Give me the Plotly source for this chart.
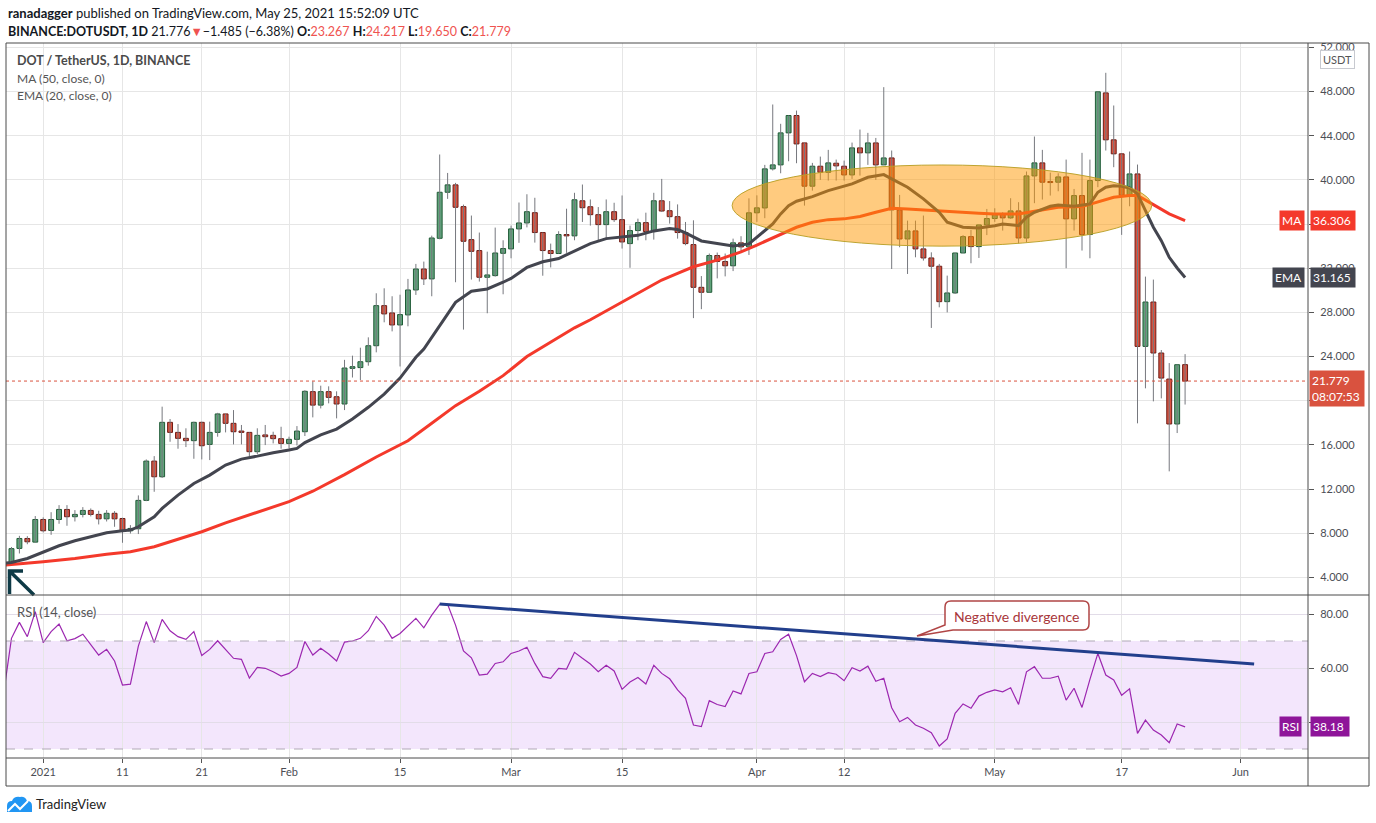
import pandas as pd
import plotly.graph_objects as go

# daily candles, 28 Dec 2020 .. 25 May 2021
candle_dates = pd.date_range('2020-12-28', '2021-05-25', freq='D')
opens = [5.25, 6.62, 7.52, 7.19,
         9.24, 8.25, 9.24, 10.15, 9.49, 9.70, 10.06, 9.70, 9.30, 9.80,
         9.33, 8.22, 8.40, 10.97, 14.53, 13.11, 18.04, 17.13, 16.59, 16.38,
         18.04, 16.04, 17.13, 18.80, 17.95, 17.25, 17.13, 15.38, 16.90, 16.86, 16.56,
         16.13, 16.50, 17.19, 20.82, 19.60, 20.82, 20.36, 19.70, 22.93, 23.00,
         23.53, 24.98, 28.61, 27.95, 26.86, 27.77, 30.03, 31.93, 31.03, 34.71,
         38.88, 39.55, 37.58, 34.59, 33.60, 31.18, 31.33, 33.35,
         33.75, 35.56, 36.10, 37.03, 35.23, 33.60, 33.33, 35.05, 34.93, 38.11,
         37.57, 36.85, 35.95, 37.12, 36.40, 34.23, 35.41, 36.13, 35.32, 38.11,
         37.21, 36.67, 35.23, 34.14, 30.27, 29.82, 33.15, 32.61, 32.22, 34.30, 33.93,
         37.02, 37.46, 41.00, 41.36, 44.26, 45.83, 43.35, 39.43, 41.24, 40.69,
         41.51, 41.24, 40.45, 42.90, 42.45, 43.35, 41.36, 41.99, 37.28, 34.65,
         35.38, 33.75, 32.93, 32.18, 28.97, 29.76, 33.38, 34.86, 33.96, 35.92,
         36.50, 36.86, 36.56, 37.19, 34.74, 40.36, 41.54, 39.85, 39.79, 40.27,
         36.47, 38.58, 35.05, 39.94, 47.88, 43.63, 42.36, 38.61, 40.54, 24.92,
         28.94, 24.32, 21.96, 17.89, 23.267]
highs = [6.75, 7.76, 7.73, 9.55,
         9.43, 9.90, 10.54, 10.54, 10.09, 10.36, 10.24, 10.03, 10.09, 10.00,
         9.40, 8.73, 11.42, 14.68, 14.98, 19.46, 18.34, 17.88, 17.50, 18.10,
         18.10, 18.10, 18.90, 18.80, 19.15, 17.80, 17.13, 17.50, 17.80, 17.19, 17.64,
         16.74, 17.70, 20.95, 21.75, 21.36, 21.30, 20.85, 23.70, 24.08, 24.80,
         25.74, 29.73, 30.18, 29.46, 29.60, 31.03, 32.39, 32.60, 34.95, 42.30,
         40.63, 39.73, 37.76, 36.77, 35.23, 33.50, 35.68, 34.53,
         35.86, 37.95, 38.70, 38.38, 35.23, 34.23, 35.35, 37.39, 38.83, 39.58,
         38.23, 37.54, 38.23, 37.93, 38.59, 35.86, 36.49, 37.03, 38.83, 40.09,
         38.08, 37.78, 36.19, 36.34, 31.29, 33.33, 33.42, 33.33, 34.68, 34.90, 38.33,
         38.60, 41.36, 46.83, 45.08, 45.83, 46.28, 43.35, 41.54, 42.11, 42.72,
         41.84, 41.75, 43.38, 44.56, 44.26, 43.80, 48.40, 42.66, 38.64, 36.31,
         36.31, 36.77, 33.44, 32.39, 31.33, 33.38, 35.00, 35.47, 35.92, 37.37,
         37.43, 37.07, 38.34, 37.98, 40.76, 43.93, 42.72, 40.66, 40.60, 41.84,
         39.18, 42.45, 41.84, 47.98, 49.70, 46.74, 42.36, 42.57, 41.39, 31.24,
         30.97, 24.59, 23.41, 23.26, 24.217]
lows = [5.10, 6.16, 7.00, 7.16,
        8.07, 7.85, 8.85, 8.67, 9.06, 9.43, 9.52, 8.79, 9.06, 8.58,
        7.13, 7.97, 7.92, 10.90, 11.75, 13.00, 16.28, 15.65, 15.80, 14.74,
        14.68, 14.62, 16.74, 17.13, 16.04, 16.04, 14.98, 15.17, 15.98, 16.13, 15.65,
        15.65, 15.95, 16.80, 18.49, 19.30, 19.76, 18.40, 19.15, 22.10, 21.87,
        23.17, 24.38, 27.10, 26.28, 23.10, 26.74, 29.58, 30.48, 29.46, 34.62,
        38.28, 30.73, 26.44, 30.97, 30.79, 27.92, 31.24, 29.64,
        32.90, 34.30, 35.70, 34.32, 31.32, 32.07, 33.33, 33.39, 34.53, 36.19,
        35.86, 34.53, 34.68, 36.19, 33.78, 32.04, 34.53, 34.53, 34.59, 37.09,
        36.04, 34.68, 34.08, 27.48, 28.29, 29.82, 31.08, 31.26, 31.74, 33.39, 33.20,
        36.20, 36.53, 40.85, 40.60, 41.69, 41.51, 37.67, 39.03, 40.00, 39.94,
        39.94, 39.94, 40.09, 40.39, 41.36, 40.00, 41.36, 31.93, 33.90, 31.48,
        32.99, 32.69, 26.59, 28.46, 28.00, 29.67, 33.38, 32.45, 32.93, 35.00,
        36.20, 35.41, 36.47, 34.26, 34.35, 37.89, 38.22, 38.58, 38.97, 32.00,
        35.41, 33.60, 32.90, 39.34, 42.66, 41.15, 35.02, 37.61, 17.95, 21.12,
        19.94, 20.21, 13.60, 17.07, 19.650]
closes = [6.60, 7.52, 7.22, 9.24,
          8.22, 9.24, 10.15, 9.49, 9.70, 10.06, 9.70, 9.30, 9.80, 9.30,
          8.22, 8.43, 10.97, 14.53, 13.11, 18.04, 17.13, 16.59, 16.38, 18.04,
          15.92, 17.13, 18.80, 17.95, 17.19, 17.13, 15.38, 16.86, 16.74, 16.56, 16.13,
          16.50, 17.25, 20.85, 19.60, 20.82, 20.30, 19.70, 22.96, 23.08, 23.53,
          24.98, 28.61, 27.86, 26.86, 27.80, 30.03, 31.93, 31.03, 34.74, 38.88,
          39.55, 37.52, 34.44, 33.53, 31.18, 31.39, 33.38, 33.78,
          35.56, 36.10, 37.12, 35.23, 33.60, 33.33, 35.05, 34.93, 38.20, 37.48,
          36.85, 35.95, 37.12, 36.40, 34.38, 35.41, 36.13, 35.32, 38.11, 37.18,
          36.67, 35.23, 34.23, 30.27, 29.82, 33.15, 32.61, 32.22, 34.30, 33.93, 37.02,
          37.47, 41.00, 41.36, 44.26, 45.83, 43.26, 39.43, 41.24, 40.69, 41.54,
          41.27, 40.45, 42.90, 42.45, 43.35, 41.36, 41.99, 37.28, 34.65, 35.38,
          33.75, 32.93, 32.18, 28.97, 29.76, 33.38, 34.86, 33.96, 35.92, 36.50,
          36.85, 36.56, 37.19, 34.74, 40.36, 41.54, 39.79, 39.76, 40.27, 36.47,
          38.58, 35.05, 39.94, 47.98, 43.63, 42.36, 38.61, 40.54, 24.92, 28.94,
          24.32, 22.05, 17.89, 23.26, 21.779]

ema_dates = ['2020-12-27', '2020-12-28', '2020-12-30', '2021-01-01', '2021-01-03', '2021-01-05',
             '2021-01-07', '2021-01-09', '2021-01-11', '2021-01-12', '2021-01-13', '2021-01-15',
             '2021-01-16', '2021-01-18', '2021-01-20', '2021-01-22', '2021-01-24', '2021-01-26',
             '2021-01-28', '2021-01-30', '2021-02-01', '2021-02-02', '2021-02-03', '2021-02-04',
             '2021-02-05', '2021-02-07', '2021-02-09', '2021-02-11', '2021-02-13', '2021-02-15',
             '2021-02-17', '2021-02-18', '2021-02-20', '2021-02-22', '2021-02-24', '2021-02-26',
             '2021-02-28', '2021-03-01', '2021-03-03', '2021-03-05', '2021-03-07', '2021-03-09',
             '2021-03-11', '2021-03-13', '2021-03-15', '2021-03-17', '2021-03-19', '2021-03-21',
             '2021-03-22', '2021-03-23', '2021-03-25', '2021-03-27', '2021-03-29', '2021-03-31',
             '2021-04-01', '2021-04-03', '2021-04-04', '2021-04-05', '2021-04-06', '2021-04-08',
             '2021-04-10', '2021-04-12', '2021-04-13', '2021-04-15', '2021-04-17', '2021-04-18',
             '2021-04-20', '2021-04-22', '2021-04-24', '2021-04-25', '2021-04-27', '2021-04-29',
             '2021-05-01', '2021-05-02', '2021-05-04', '2021-05-05', '2021-05-06', '2021-05-08',
             '2021-05-09', '2021-05-11', '2021-05-13', '2021-05-14', '2021-05-15', '2021-05-16',
             '2021-05-17', '2021-05-18', '2021-05-19', '2021-05-20', '2021-05-21', '2021-05-22',
             '2021-05-23', '2021-05-24', '2021-05-25']
ema_vals = [5.28, 5.35, 5.71, 6.31, 6.86, 7.31, 7.67, 8.04, 8.22, 8.28, 8.58, 9.49,
            10.24, 11.45, 12.5, 13.26, 14.17, 14.71, 14.98, 15.29, 15.53, 15.68, 16.2, 16.52,
            16.9, 17.43, 18.34, 19.4, 20.6, 22.05, 23.93, 24.68, 26.8, 28.91, 29.91, 30.12,
            30.73, 31.08, 32.07, 32.58, 32.88, 33.57, 34.23, 34.68, 34.83, 34.98, 35.38, 35.59,
            35.5, 35.2, 34.47, 34.23, 34.02, 34.2, 34.8, 36.01, 36.92, 37.67, 38.07, 38.49,
            39.03, 39.4, 39.64, 40.24, 40.48, 40.09, 39.34, 38.28, 37.07, 36.16, 35.71, 35.65,
            35.84, 36.01, 35.86, 36.62, 37.07, 37.61, 37.73, 37.61, 37.82, 38.88, 39.34, 39.46,
            39.43, 39.27, 38.73, 37.22, 35.71, 34.5, 32.99, 32.02, 31.165]

ma_dates = ['2020-12-27', '2020-12-28', '2021-01-01', '2021-01-05', '2021-01-09', '2021-01-12',
            '2021-01-15', '2021-01-18', '2021-01-21', '2021-01-24', '2021-01-27', '2021-01-30',
            '2021-02-01', '2021-02-04', '2021-02-08', '2021-02-12', '2021-02-16', '2021-02-19',
            '2021-02-22', '2021-02-25', '2021-02-28', '2021-03-03', '2021-03-06', '2021-03-09',
            '2021-03-11', '2021-03-14', '2021-03-17', '2021-03-20', '2021-03-22', '2021-03-24',
            '2021-03-27', '2021-03-30', '2021-04-01', '2021-04-04', '2021-04-06', '2021-04-08',
            '2021-04-10', '2021-04-12', '2021-04-14', '2021-04-16', '2021-04-18', '2021-04-20',
            '2021-04-23', '2021-04-26', '2021-04-29', '2021-05-01', '2021-05-04', '2021-05-06',
            '2021-05-09', '2021-05-12', '2021-05-14', '2021-05-16', '2021-05-18', '2021-05-19',
            '2021-05-21', '2021-05-23', '2021-05-25']
ma_vals = [5.09, 5.17, 5.41, 5.71, 6.1, 6.31, 6.77, 7.43, 8.13, 8.94, 9.64, 10.33,
           10.85, 11.8, 13.3, 14.9, 16.37, 17.95, 19.55, 20.85, 22.27, 24.0, 25.3, 26.6,
           27.33, 28.53, 29.73, 30.93, 31.53, 32.13, 32.73, 33.48, 34.1, 35.05, 35.71, 36.16,
           36.4, 36.47, 36.68, 37.07, 37.43, 37.37, 37.22, 37.07, 36.98, 36.9, 36.92, 37.16,
           37.52, 37.58, 37.98, 38.43, 38.58, 38.58, 37.76, 36.92, 36.306]

rsi_dates = pd.date_range('2020-12-27', '2021-05-25', freq='D')
rsi_vals = [50.4, 71.0, 76.9, 71.6, 80.9,
            69.4, 73.5, 76.3, 70.1, 70.9, 72.5, 68.5, 64.8, 66.9, 62.6,
            53.7, 54.0, 68.1, 77.2, 69.4, 78.0, 73.8, 71.6, 70.6, 73.5,
            64.6, 66.9, 70.1, 66.9, 63.6, 63.2, 56.3, 60.2, 59.9, 58.6, 57.0,
            58.0, 60.2, 69.8, 64.8, 67.3, 65.2, 62.6, 69.6, 70.0, 71.0,
            73.8, 79.1, 75.9, 71.0, 72.8, 75.6, 78.4, 74.9, 79.6, 83.6,
            83.6, 75.9, 66.3, 63.8, 57.4, 57.7, 61.7, 62.3,
            65.4, 66.3, 67.7, 61.7, 56.8, 56.2, 59.9, 59.6, 65.8, 63.6,
            61.5, 58.6, 61.0, 58.9, 52.1, 54.8, 56.5, 54.1, 61.0, 58.0,
            56.0, 51.9, 48.8, 38.9, 38.3, 47.9, 46.5, 45.7, 51.5, 50.4, 58.0,
            58.6, 65.4, 66.0, 70.6, 72.5, 64.6, 54.9, 58.0, 56.8, 58.3,
            57.7, 55.3, 60.1, 58.9, 60.7, 55.1, 56.2, 45.3, 40.1, 41.7,
            38.9, 37.7, 36.0, 31.1, 33.7, 43.2, 46.7, 45.1, 49.6, 51.0,
            51.9, 51.2, 52.7, 46.5, 58.6, 60.5, 56.2, 56.2, 57.0, 48.1,
            52.5, 45.4, 55.8, 65.4, 57.4, 55.6, 49.9, 52.3, 35.8, 40.7,
            37.0, 35.2, 32.3, 39.3, 38.18]

tick_dates = ['2021-01-01', '2021-01-11', '2021-01-21', '2021-02-01', '2021-02-15', '2021-03-01',
              '2021-03-15', '2021-04-01', '2021-04-12', '2021-05-01', '2021-05-17', '2021-06-01']
tick_text = ['2021', '11', '21', 'Feb', '15', 'Mar', '15', 'Apr', '12', 'May', '17', 'Jun']

# page geometry in pixels
W, H = 1376, 823
L, R, T, B = 6, 68, 43, 65
FONT = 'Lato'
UP, UP_EDGE = '#5fa37a', '#1f5a36'
DOWN, DOWN_EDGE = '#d9523f', '#6e1c16'


def px(x):
    return (x - L) / (W - L - R)


def py(y):
    return (H - B - y) / (H - T - B)


def P(x, y):
    return f'{px(x):.5f},{py(y):.5f}'


split = py(595)
x_range = ['2020-12-27 07:26', '2021-06-09 12:00']

fig = go.Figure()

# wicks
wx, wy = [], []
for d, lo, hi in zip(candle_dates, lows, highs):
    wx += [d, d, None]
    wy += [lo, hi, None]
fig.add_trace(go.Scatter(x=wx, y=wy, mode='lines', line=dict(color='#76787e', width=1),
                         hoverinfo='skip', xaxis='x', yaxis='y'))

# bodies
up = [c >= o for o, c in zip(opens, closes)]
fig.add_trace(go.Bar(
    x=candle_dates,
    y=[max(abs(c - o), 0.04) for o, c in zip(opens, closes)],
    base=[min(o, c) for o, c in zip(opens, closes)],
    width=0.62 * 86400000,
    marker=dict(color=[UP if u else DOWN for u in up],
                line=dict(color=[UP_EDGE if u else DOWN_EDGE for u in up], width=1)),
    xaxis='x', yaxis='y'))

fig.add_trace(go.Scatter(x=ma_dates, y=ma_vals, mode='lines',
                         line=dict(color='#f4392b', width=3), xaxis='x', yaxis='y'))
fig.add_trace(go.Scatter(x=ema_dates, y=ema_vals, mode='lines',
                         line=dict(color='#43454f', width=3), xaxis='x', yaxis='y'))

fig.add_trace(go.Scatter(x=rsi_dates, y=rsi_vals, mode='lines',
                         line=dict(color='#9c27b0', width=1.2), xaxis='x2', yaxis='y2'))

axis_font = dict(family=FONT, size=11, color='#4c4e55')
xcommon = dict(type='date', range=x_range, tickvals=tick_dates, showgrid=True,
               gridcolor='#e6e6e6', gridwidth=1, zeroline=False, showline=False)

fig.update_layout(
    width=W, height=H,
    margin=dict(l=L, r=R, t=T, b=B),
    plot_bgcolor='white', paper_bgcolor='white',
    showlegend=False, barmode='overlay', hovermode=False,
    font=dict(family=FONT, color='#131722'),
    xaxis=dict(xcommon, anchor='y', showticklabels=False, ticks=''),
    xaxis2=dict(xcommon, anchor='y2', ticktext=tick_text, ticks='outside', ticklen=4,
                tickcolor='#555', tickfont=axis_font),
    yaxis=dict(domain=[split, 1], side='right', range=[2.40, 52.40], tick0=0, dtick=4,
               tickformat='.3f', ticks='outside', ticklen=5, tickcolor='#555',
               ticklabelstandoff=4, tickfont=axis_font, showgrid=True, gridcolor='#e6e6e6',
               zeroline=False),
    yaxis2=dict(domain=[0, split], side='right', range=[26.67, 87.04], tickvals=[40, 60, 80],
                tickformat='.2f', ticks='outside', ticklen=5, tickcolor='#555',
                ticklabelstandoff=4, tickfont=axis_font, showgrid=True, gridcolor='#e2dce8',
                zeroline=False),
)

frame = '#4a4a4a'
shapes = [
    # RSI band and levels
    dict(type='rect', xref='paper', yref='y2', x0=0, x1=1, y0=30, y1=70,
         fillcolor='#f3e6fc', line=dict(width=0), layer='below'),
    dict(type='line', xref='paper', yref='y2', x0=0, x1=1, y0=70, y1=70,
         line=dict(color='#b0a9b6', width=1, dash='dash')),
    dict(type='line', xref='paper', yref='y2', x0=0, x1=1, y0=30, y1=30,
         line=dict(color='#b0a9b6', width=1, dash='dash')),
    # last price dotted line
    dict(type='line', xref='paper', yref='y', x0=0, x1=1, y0=closes[-1], y1=closes[-1],
         line=dict(color='#d9523f', width=1, dash='dot')),
    # highlight ellipse
    dict(type='circle', xref='x', yref='y', x0='2021-03-28 21:00', x1='2021-05-20 19:00',
         y0=34.0, y1=41.35, fillcolor='rgba(255,152,0,0.5)',
         line=dict(color='rgba(185,160,40,0.95)', width=1), layer='above'),
    # divergence trend line
    dict(type='line', xref='x2', yref='y2', x0='2021-02-20', y0=83.7,
         x1='2021-06-02 17:00', y1=61.5, line=dict(color='#223f8c', width=3)),
    # callout
    dict(type='path', xref='paper', yref='paper',
         path=(f'M{P(951, 601)} L{P(1083, 601)} Q{P(1089, 601)} {P(1089, 607)} '
               f'L{P(1089, 624)} Q{P(1089, 630)} {P(1083, 630)} L{P(953, 630)} '
               f'L{P(917, 636)} L{P(945, 625)} L{P(945, 607)} Q{P(945, 601)} {P(951, 601)} Z'),
         fillcolor='white', line=dict(color='#b04545', width=1.5)),
    # bottom-left arrow
    dict(type='path', xref='paper', yref='paper',
         path=f'M{P(34, 595)} L{P(9.5, 571)} M{P(23, 571)} L{P(9.5, 571)} L{P(9.5, 594)}',
         line=dict(color='#0e3a46', width=3.5)),
    # frame and separators
    dict(type='rect', xref='paper', yref='paper', x0=px(6), x1=px(1369), y0=py(786), y1=py(43),
         line=dict(color=frame, width=1)),
    dict(type='line', xref='paper', yref='paper', x0=px(1308), x1=px(1308), y0=py(786), y1=py(43),
         line=dict(color=frame, width=1)),
    dict(type='line', xref='paper', yref='paper', x0=px(6), x1=px(1369), y0=split, y1=split,
         line=dict(color=frame, width=1)),
    dict(type='line', xref='paper', yref='paper', x0=px(6), x1=px(1369), y0=0, y1=0,
         line=dict(color=frame, width=1)),
    # TradingView logo
    dict(type='path', xref='paper', yref='paper',
         path=(f'M{P(7, 812)} L{P(7, 806)} Q{P(7, 801)} {P(12, 801)} Q{P(14, 796)} {P(20, 797)} '
               f'Q{P(25, 796)} {P(27, 801)} Q{P(32, 801)} {P(32, 806)} L{P(32, 812)} Z'),
         fillcolor='#2196f3', line=dict(width=0)),
    dict(type='path', xref='paper', yref='paper',
         path=f'M{P(8, 811)} L{P(15, 804)} L{P(20, 809)} L{P(28, 801)}',
         line=dict(color='white', width=2)),
]
fig.update_layout(shapes=shapes)

red = '#ef5350'
ann = [
    dict(x=px(6), y=py(13), text='<b>ranadagger</b> published on TradingView.com, May 25, 2021 15:52:09 UTC',
         font=dict(size=13, color='#131722')),
    dict(x=px(6), y=py(31),
         text=(f"<b>BINANCE:DOTUSDT, 1D</b> 21.776<span style='color:{red}'>▼</span>"
               f"−1.485 (−6.38%) <b>O:</b><span style='color:{red}'>{opens[-1]:.3f}</span> "
               f"<b>H:</b><span style='color:{red}'>{highs[-1]:.3f}</span> "
               f"<b>L:</b><span style='color:{red}'>{lows[-1]:.3f}</span> "
               f"<b>C:</b><span style='color:{red}'>{closes[-1]:.3f}</span>"),
         font=dict(size=12.5, color='#131722')),
    dict(x=px(15), y=py(61), text='<b>DOT / TetherUS, 1D, BINANCE</b>', font=dict(size=12.5, color='#4a4a4a')),
    dict(x=px(15), y=py(78), text='MA (50, close, 0)', font=dict(size=12, color='#555')),
    dict(x=px(15), y=py(95), text='EMA (20, close, 0)', font=dict(size=12, color='#555')),
    dict(x=px(15), y=py(612), text='RSI (14, close)', font=dict(size=13, color='#555')),
    dict(x=px(34), y=py(804), text='TradingView', font=dict(size=13, color='#222')),
]
for a in ann:
    a.update(xref='paper', yref='paper', xanchor='left', yanchor='middle', showarrow=False)

box = dict(showarrow=False, xref='paper', yanchor='middle', borderpad=2,
           font=dict(family=FONT, size=12, color='white'))
ann += [
    dict(box, x=px(1305), y=ma_vals[-1], yref='y', xanchor='right', text='MA', bgcolor='#f4392b'),
    dict(box, x=px(1310), y=ma_vals[-1], yref='y', xanchor='left', text=f'{ma_vals[-1]:.3f}',
         bgcolor='#f4392b', width=40, align='left'),
    dict(box, x=px(1305), y=ema_vals[-1], yref='y', xanchor='right', text='EMA', bgcolor='#43454f'),
    dict(box, x=px(1310), y=ema_vals[-1], yref='y', xanchor='left', text=f'{ema_vals[-1]:.3f}',
         bgcolor='#43454f', width=40, align='left'),
    dict(box, x=px(1309), y=closes[-1], yref='y', xanchor='left', yanchor='top', yshift=11,
         text=f'{closes[-1]:.3f}<br>08:07:53', bgcolor='#d9523f', width=50, align='left'),
    dict(box, x=px(1302), y=rsi_vals[-1], yref='y2', xanchor='right', text='RSI', bgcolor='#8e1599'),
    dict(box, x=px(1310), y=rsi_vals[-1], yref='y2', xanchor='left', text=f'{rsi_vals[-1]:.2f}',
         bgcolor='#8e1599', width=34, align='left'),
    dict(x=px(1337), y=py(59), xref='paper', yref='paper', xanchor='center', yanchor='middle',
         text='USDT', showarrow=False, font=dict(size=11, color='#555'), bgcolor='white',
         bordercolor='#c8cad0', borderwidth=1, borderpad=2),
    dict(x=px(1017), y=py(616), xref='paper', yref='paper', xanchor='center', yanchor='middle',
         text='Negative divergence', showarrow=False, font=dict(size=14, color='#a8363a')),
]
fig.update_layout(annotations=ann)

# the page body has a default 8px margin; drop it so the figure sits at the window corner
fig.write_html('out.html', config={'displayModeBar': False},
               post_script="document.body.style.margin='0px';")
